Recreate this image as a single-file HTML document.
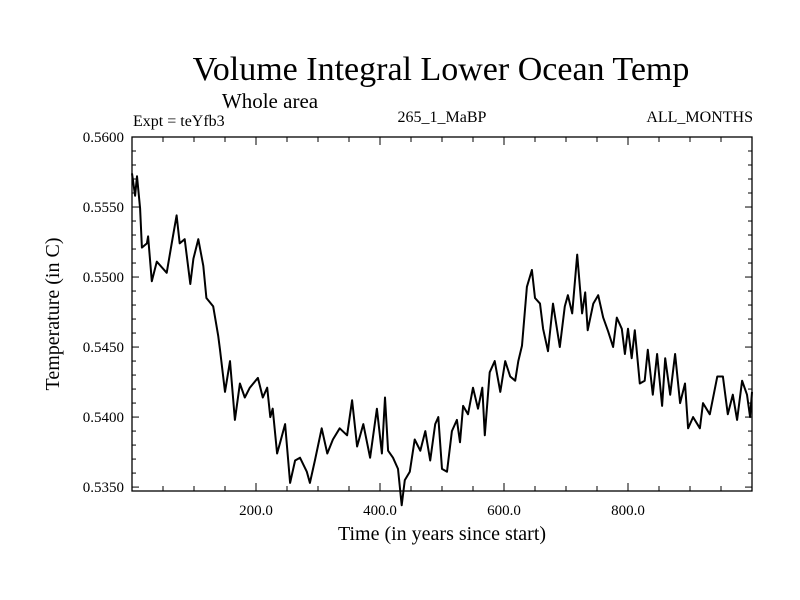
<!DOCTYPE html>
<html><head><meta charset="utf-8"><style>
body{margin:0;background:#fff}
svg{display:block;font-family:"Liberation Serif",serif}
</style></head><body>
<svg id="chart" width="800" height="600">
<rect width="800" height="600" fill="#fff"/>
<text x="441" y="80" font-size="34" text-anchor="middle">Volume Integral Lower Ocean Temp</text>
<text x="270" y="108" font-size="21" text-anchor="middle">Whole area</text>
<text x="133" y="126" font-size="16">Expt = teYfb3</text>
<text x="442" y="122" font-size="16" text-anchor="middle">265_1_MaBP</text>
<text x="753" y="122" font-size="16" text-anchor="end">ALL_MONTHS</text>
<text x="442" y="540" font-size="20" text-anchor="middle">Time (in years since start)</text>
<text transform="translate(59,314) rotate(-90)" font-size="20" text-anchor="middle">Temperature (in C)</text>
<g id="axes"></g>
<path id="line" fill="none" stroke="#000" stroke-width="2" stroke-linejoin="round"/>
</svg>
<script>
const years=[0,5,8,13,16,24,26,32,40,56,64,72,77,85,94,99,107,115,120,131,139,142,150,158,166,174,182,190,203,211,218,223,227,234,239,247,255,263,271,282,287,295,306,315,324,335,347,355,363,373,384,395,403,408,413,421,429,435,440,448,456,465,473,481,489,494,500,508,516,524,529,534,542,550,558,565,569,577,585,594,602,610,618,623,629,637,645,650,658,663,671,679,690,698,703,710,718,726,731,735,744,752,760,768,776,782,790,795,800,806,811,819,827,832,840,847,855,860,868,876,884,892,897,905,916,921,932,944,953,961,969,976,984,992,997,1000];
const temps=[0.5574,0.5558,0.5572,0.5549,0.5521,0.5524,0.5529,0.5497,0.5511,0.5503,0.5524,0.5544,0.5524,0.5527,0.5495,0.5513,0.5527,0.5508,0.5485,0.5479,0.5458,0.5448,0.5418,0.5440,0.5398,0.5424,0.5414,0.5421,0.5428,0.5414,0.5421,0.5400,0.5406,0.5374,0.5382,0.5395,0.5353,0.5369,0.5371,0.5361,0.5353,0.5369,0.5392,0.5374,0.5384,0.5392,0.5387,0.5412,0.5379,0.5395,0.5371,0.5406,0.5374,0.5414,0.5376,0.5371,0.5363,0.5337,0.5355,0.5361,0.5384,0.5376,0.5390,0.5369,0.5395,0.5400,0.5363,0.5361,0.5390,0.5398,0.5382,0.5408,0.5402,0.5421,0.5406,0.5421,0.5387,0.5432,0.5440,0.5418,0.5440,0.5429,0.5426,0.5440,0.5451,0.5493,0.5505,0.5485,0.5481,0.5463,0.5447,0.5481,0.5450,0.5479,0.5487,0.5474,0.5516,0.5474,0.5489,0.5462,0.5481,0.5487,0.5471,0.5461,0.5450,0.5471,0.5463,0.5445,0.5463,0.5442,0.5462,0.5424,0.5426,0.5448,0.5416,0.5445,0.5408,0.5442,0.5416,0.5445,0.5410,0.5424,0.5392,0.5400,0.5392,0.5410,0.5402,0.5429,0.5429,0.5402,0.5416,0.5398,0.5426,0.5416,0.5400,0.5418];
const yTicks=[0.5350,0.5400,0.5450,0.5500,0.5550,0.5600];
const xTicks=[200,400,600,800];
const X0=132,X1=752,Y0=137,Y1=491,TMIN=0,TMAX=1000,VMIN=0.53472,VMAX=0.5600;
const sx=t=>X0+(t-TMIN)/(TMAX-TMIN)*(X1-X0);
const sy=v=>Y1-(v-VMIN)/(VMAX-VMIN)*(Y1-Y0);
const NS="http://www.w3.org/2000/svg";
const g=document.getElementById('axes');
function mk(tag,attrs){const e=document.createElementNS(NS,tag);for(const k in attrs)e.setAttribute(k,attrs[k]);g.appendChild(e);return e;}
const frame=mk('rect',{x:X0,y:Y0,width:X1-X0,height:Y1-Y0,fill:'none',stroke:'#000','stroke-width':1.3});


for(let v=0.535;v<=0.56001;v+=0.001){const y=sy(v);const major=Math.abs(Math.round(v*10000)%50)<1;const L=major?7:4;
 mk('line',{x1:X0,y1:y,x2:X0+L,y2:y,stroke:'#000'});mk('line',{x1:X1,y1:y,x2:X1-L,y2:y,stroke:'#000'});}
for(let t=50;t<1000;t+=50){const x=sx(t);const L=(t%200===0)?8:5;
 mk('line',{x1:x,y1:Y1,x2:x,y2:Y1-L,stroke:'#000'});mk('line',{x1:x,y1:Y0,x2:x,y2:Y0+L,stroke:'#000'});}
yTicks.forEach(v=>{const t=mk('text',{x:X0-8,y:sy(v)+5,'font-size':15,'text-anchor':'end'});t.textContent=v.toFixed(4);
 
 });
xTicks.forEach(v=>{const t=mk('text',{x:sx(v),y:Y1+24,'font-size':15,'text-anchor':'middle'});t.textContent=v.toFixed(1);
 
 });
document.getElementById('line').setAttribute('d',years.map((t,i)=>(i?'L':'M')+sx(t).toFixed(1)+' '+sy(temps[i]).toFixed(1)).join(''));
</script>
</body></html>
